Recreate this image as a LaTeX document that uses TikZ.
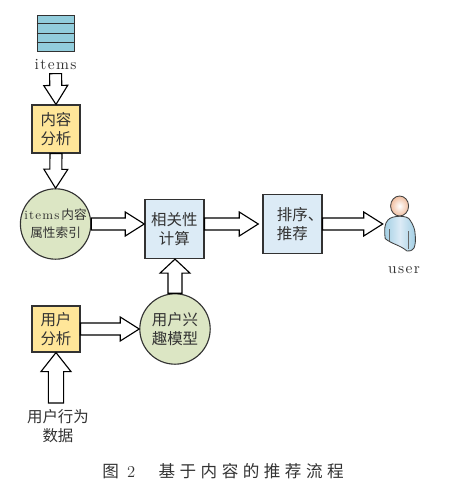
\documentclass[tikz,border=0pt]{standalone}
\usepackage{fontspec}
\usepackage{xcolor}
\usetikzlibrary{calc}
\newfontfamily\cjk{Noto Sans CJK SC}
\newfontfamily\cjkcap[LetterSpace=27]{Noto Sans CJK SC}
\newfontfamily\latinwide[LetterSpace=9]{Latin Modern Roman}
\definecolor{stackblue}{RGB}{146,205,220}
\definecolor{anayellow}{RGB}{255,230,153}
\definecolor{circgreen}{RGB}{220,230,196}
\definecolor{calcblue}{RGB}{220,235,246}
\definecolor{inkgray}{RGB}{50,50,50}
\definecolor{skinpeach}{RGB}{240,190,160}
\definecolor{coatblue}{RGB}{120,185,215}

\begin{document}
\begin{tikzpicture}[
  ana/.style={draw=inkgray, line width=.8pt, fill=anayellow, align=center, minimum width=12mm, minimum height=12mm, inner sep=0pt, text=inkgray, font=\cjk\fontsize{11}{13.5}\selectfont},
  calcbox/.style={draw=inkgray, line width=.9pt, fill=calcblue, align=center, minimum width=14.75mm, minimum height=14.75mm, inner sep=0pt, text=inkgray, font=\cjk\fontsize{11}{14}\selectfont},
  circ/.style={draw=inkgray, line width=.8pt, circle, fill=circgreen, align=center, minimum size=17.6mm, inner sep=0pt, text=inkgray, font=\cjk\fontsize{11}{13.5}\selectfont},
  lbl/.style={align=center, inner sep=0pt, text=inkgray, font=\cjk\fontsize{11}{13.5}\selectfont},
  latinlbl/.style={inner sep=0pt, text=inkgray, font=\latinwide\fontsize{11}{13}\selectfont},
  bigarrow/.style n args={3}{draw=black, fill=white, line width=.8pt, to path={
    ($(\tikztostart)!#1!90:(\tikztotarget)$)
    -- ($(\tikztotarget)!#3!(\tikztostart)!#1!90:(\tikztotarget)$)
    -- ($(\tikztotarget)!#3!(\tikztostart)!#2!90:(\tikztotarget)$)
    -- (\tikztotarget)
    -- ($(\tikztotarget)!#3!(\tikztostart)!#2!-90:(\tikztotarget)$)
    -- ($(\tikztotarget)!#3!(\tikztostart)!#1!-90:(\tikztotarget)$)
    -- ($(\tikztostart)!#1!-90:(\tikztotarget)$) -- cycle}}
]
\useasboundingbox (0,0) rectangle (11.425,12.225);

% top column: items to index
\node[draw=inkgray, line width=.7pt, fill=stackblue, minimum width=9.25mm, minimum height=9mm, inner sep=0pt] (itemsbox) at (1.39,11.4) {};
\foreach \i in {1,2,3}
  \draw[inkgray, line width=.6pt] ($(itemsbox.north west)!\i/4!(itemsbox.south west)$) -- ($(itemsbox.north east)!\i/4!(itemsbox.south east)$);
\node[latinlbl] (itemslabel) at (1.39,10.6) {items};
\node[ana] (contentana) at (1.4,9.0) {内容\\分析};
\node[circ, font=\cjk\fontsize{9}{13}\selectfont] (itemsindex) at (1.39,6.625) {{\latinwide items}\,内容\\属性索引};

% middle row
\node[calcbox] (relbox) at (4.36,6.5) {相关性\\计算};
\node[calcbox] (sortbox) at (7.31,6.625) {排序\rlap{、}\\推荐};
\node[minimum width=8.5mm, minimum height=9mm, inner sep=0pt] (usericon) at (10,6.65) {};
\node[latinlbl] (userlabel) at (10.1,5.475) {user};
\coordinate (sorttip) at ([xshift=-1mm]sortbox.west);

% user figure
\draw[black!75, line width=.6pt, left color=coatblue!70, right color=coatblue!70, middle color=calcblue]
  (9.63,6.26) .. controls (9.6,6.5) and (9.62,6.65) .. (9.7,6.725)
  .. controls (9.8,6.85) and (10.2,6.85) .. (10.25,6.725)
  .. controls (10.34,6.6) and (10.38,6.45) .. (10.375,6.4)
  .. controls (10.4,6.2) and (10.38,6.1) .. (10.35,6.025)
  .. controls (10.3,5.95) and (10.22,5.94) .. (10.175,5.95)
  .. controls (10.0,6.1) and (9.8,6.12) .. (9.63,6.26) -- cycle;
\draw[black!60, line width=.4pt] (9.74,6.5) -- (9.74,6.2) (10.2,6.45) -- (10.2,6.0);
\draw[black!75, line width=.6pt, inner color=white, outer color=skinpeach] (9.99,7.075) ellipse (.225 and .25);

% bottom row
\node[ana, minimum height=11.5mm] (userana) at (1.4,4.0) {用户\\分析};
\node[circ] (usermodel) at (4.375,4.0) {用户兴\\趣模型};
\node[lbl] (behaviour) at (1.45,1.575) {用户行为\\数据};

% connectors
\draw[bigarrow={.15cm}{.3cm}{.475cm}] (itemslabel.south) ++(0,-.08) coordinate (itemsfoot) (itemsfoot) to (contentana.north);
\draw[bigarrow={.15cm}{.3cm}{.475cm}] (contentana.south) to (itemsindex.north);
\draw[bigarrow={.15cm}{.3cm}{.475cm}] (itemsindex.east) to (relbox.west |- itemsindex.east);
\draw[bigarrow={.15cm}{.3cm}{.475cm}] (relbox.east |- sorttip) to (sorttip);
\draw[bigarrow={.15cm}{.3cm}{.475cm}] (sortbox.east) to (usericon.west |- sortbox.east);
\draw[bigarrow={.15cm}{.3cm}{.475cm}] (userana.east) to (usermodel.west);
\draw[bigarrow={.175cm}{.375cm}{.35cm}] (usermodel.north) to (relbox.south -| usermodel.north);
\draw[bigarrow={.19cm}{.375cm}{.475cm}] (behaviour.north) ++(-.05,.15) coordinate (behaviourtop) (behaviourtop) to (userana.south);

% caption
\node[inner sep=0pt, text=inkgray, font=\cjkcap\fontsize{11.8}{14}\selectfont] (caption) at (5.575,.45) {图\hspace{.5em}{\latinwide\fontsize{11.8}{14}\selectfont 2}\hspace{1.4em}基于内容的推荐流程};
\end{tikzpicture}
\end{document}
